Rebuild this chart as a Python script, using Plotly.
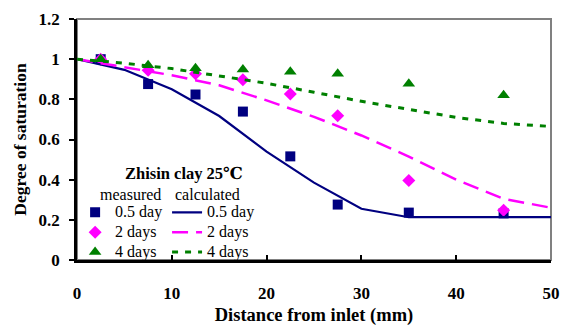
import plotly.graph_objects as go

# Measured degree of saturation along the column
x_meas = [2.5, 7.5, 12.5, 17.5, 22.5, 27.5, 35, 45]
meas_05d = [1.0, 0.876, 0.824, 0.739, 0.516, 0.276, 0.236, 0.232]
meas_2d = [1.0, 0.945, 0.927, 0.898, 0.826, 0.718, 0.396, 0.248]
meas_4d = [1.0, 0.97, 0.955, 0.948, 0.937, 0.927, 0.878, 0.82]

# Calculated profiles
x_calc = [0, 5, 10, 15, 20, 25, 30, 35, 40, 45, 50]
calc_05d = [1.0, 0.947, 0.85, 0.717, 0.54, 0.385, 0.255, 0.213, 0.213, 0.213, 0.213]
calc_2d = [1.0, 0.96, 0.92, 0.87, 0.795, 0.713, 0.62, 0.515, 0.40, 0.305, 0.26]
calc_4d = [1.0, 0.98, 0.953, 0.917, 0.88, 0.835, 0.79, 0.75, 0.71, 0.68, 0.665]

x_ticks = [0, 10, 20, 30, 40, 50]
y_ticks = [0, 0.2, 0.4, 0.6, 0.8, 1.0, 1.2]

NAVY = "#000080"
MAGENTA = "#FF00FF"
GREEN = "#008000"
FONT = "Liberation Serif, Times New Roman, DejaVu Serif, serif"


def entry(label):
    # legend rows are spaced by the small legend font; the label itself is larger
    return f"<span style='font-size:16px'>{label}</span>"


fig = go.Figure()

fig.add_trace(go.Scatter(x=x_meas, y=meas_05d, mode="markers", name=entry("0.5 day"),
                         marker=dict(symbol="square", size=10, color=NAVY),
                         legend="legend"))
fig.add_trace(go.Scatter(x=x_meas, y=meas_2d, mode="markers", name=entry("2 days"),
                         marker=dict(symbol="diamond", size=10, color=MAGENTA),
                         legend="legend"))
fig.add_trace(go.Scatter(x=x_meas, y=meas_4d, mode="markers", name=entry("4 days"),
                         marker=dict(symbol="triangle-up", size=11, color=GREEN),
                         legend="legend"))

fig.add_trace(go.Scatter(x=x_calc, y=calc_05d, mode="lines", name=entry("0.5 day"),
                         line=dict(color=NAVY, width=2.2),
                         legend="legend2"))
fig.add_trace(go.Scatter(x=x_calc, y=calc_2d, mode="lines", name=entry("2 days"),
                         line=dict(color=MAGENTA, width=2.5, dash="16px,8px"),
                         legend="legend2"))
fig.add_trace(go.Scatter(x=x_calc, y=calc_4d, mode="lines", name=entry("4 days"),
                         line=dict(color=GREEN, width=3, dash="6px,7px"),
                         legend="legend2"))

legend_common = dict(
    bgcolor="rgba(0,0,0,0)",
    font=dict(family=FONT, size=13, color="black"),
    itemwidth=30,
    xanchor="left",
    yanchor="top",
    tracegroupgap=0,
)

fig.update_layout(
    width=570,
    height=334,
    margin=dict(l=77, r=10, t=14, b=74),
    paper_bgcolor="white",
    plot_bgcolor="white",
    font=dict(family=FONT, color="black"),
    legend=dict(x=-0.004, y=0.26, **legend_common),
    legend2=dict(x=0.19, y=0.26, **legend_common),
    xaxis=dict(
        range=[0, 50],
        tickvals=x_ticks,
        ticks="inside",
        ticklen=5,
        tickwidth=1.5,
        tickcolor="black",
        showline=True,
        linecolor="black",
        linewidth=2.5,
        showgrid=False,
        zeroline=False,
        tickfont=dict(family=FONT, size=17, color="black", weight="bold"),
        ticklabelstandoff=16,
        title=dict(text="Distance from inlet (mm)",
                   font=dict(family=FONT, size=18.5, color="black", weight="bold"),
                   standoff=6),
    ),
    yaxis=dict(
        range=[0, 1.2],
        tickvals=y_ticks,
        ticks="outside",
        ticklen=5,
        tickwidth=1.5,
        tickcolor="black",
        showline=True,
        linecolor="black",
        linewidth=2.5,
        showgrid=False,
        zeroline=False,
        tickfont=dict(family=FONT, size=17, color="black", weight="bold"),
        ticklabelstandoff=6,
        title=dict(text="Degree of saturation",
                   font=dict(family=FONT, size=17.5, color="black", weight="bold"),
                   standoff=8),
    ),
    shapes=[dict(type="rect", xref="paper", yref="paper", x0=0, x1=1, y0=0, y1=1,
                 line=dict(color="#808080", width=2), layer="below")],
    annotations=[
        dict(text="Zhisin clay 25℃", xref="paper", yref="paper", x=0.226, y=0.358,
             xanchor="center", yanchor="middle", showarrow=False,
             font=dict(family=FONT, size=16.5, color="black", weight="bold")),
        dict(text="measured", xref="paper", yref="paper", x=0.112, y=0.272,
             xanchor="center", yanchor="middle", showarrow=False,
             font=dict(family=FONT, size=16, color="black")),
        dict(text="calculated", xref="paper", yref="paper", x=0.275, y=0.272,
             xanchor="center", yanchor="middle", showarrow=False,
             font=dict(family=FONT, size=16, color="black")),
    ],
)

fig.write_html("out.html")
